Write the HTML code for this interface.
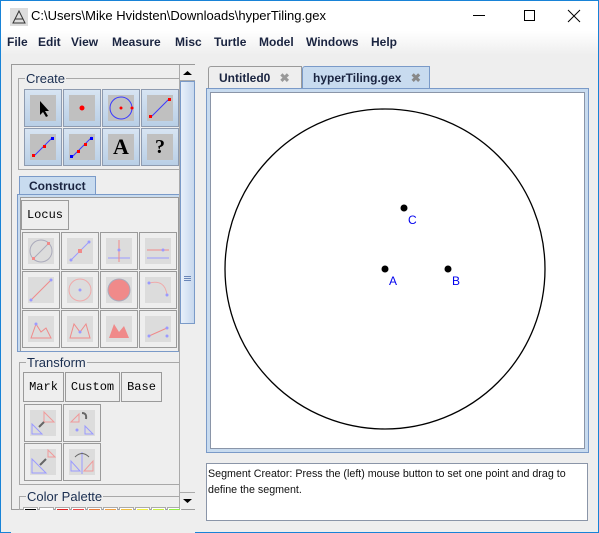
<!DOCTYPE html>
<html><head><meta charset="utf-8"><style>
*{box-sizing:border-box}
body{margin:0;width:599px;height:533px;overflow:hidden;background:#eeeeee;font-family:"Liberation Sans",sans-serif;position:relative}
.a{position:absolute}
.btn{position:absolute;width:38px;height:38px;border:1px solid #8e9bb0;background:linear-gradient(#d7e4f2,#b9cfe6);}
.btn .in{position:absolute;left:5px;top:5px;width:26px;height:26px;background:#c0c0c0}
.gb{position:absolute;border:1px solid #9a9a9a;width:38px;height:38px;background:#eeeeee}
.gb .in{position:absolute;left:5px;top:5px;width:26px;height:26px;background:#dcdcdc}
.tb{position:absolute;border:1px solid #9a9a9a;background:#eeeeee;font-family:"Liberation Mono",monospace;font-size:12px;text-align:center;line-height:28px;height:30px}
.grp{position:absolute;border:1px solid #a8a8a8}
.lbl{position:absolute;background:#eeeeee;font-size:13px;color:#1a2e50;padding:0 1px;line-height:14px}
svg{position:absolute;left:0;top:0}
</style></head><body>
<div class="a" style="left:0;top:0;width:599px;height:533px;border:1px solid #1883d7"></div>
<div class="a" style="left:1px;top:1px;width:597px;height:30px;background:#fff">
 <svg width="20" height="20" style="left:8px;top:6px"><rect x="1" y="1" width="18" height="18" fill="#ddd"/><path d="M4 16 L10 4 L16 16 Z M6 12 H14" stroke="#333" fill="none"/></svg>
 <span class="a" style="left:30px;top:7px;font-size:13px;color:#000">C:\Users\Mike Hvidsten\Downloads\hyperTiling.gex</span>
 <span class="a" style="left:472px;top:14px;width:12px;height:1px;background:#000"></span>
 <span class="a" style="left:523px;top:9px;width:11px;height:11px;border:1px solid #000"></span>
 <svg width="14" height="14" style="left:566px;top:8px"><path d="M1 1 L13 13 M13 1 L1 13" stroke="#000" stroke-width="1"/></svg>
</div>
<div class="a" style="left:1px;top:31px;width:597px;height:24px;background:linear-gradient(#fff,#eeeeee);font-size:12px;font-weight:bold;color:#1a2440">
 <span class="a" style="left:6px;top:4px">File</span>
 <span class="a" style="left:37px;top:4px">Edit</span>
 <span class="a" style="left:70px;top:4px">View</span>
 <span class="a" style="left:111px;top:4px">Measure</span>
 <span class="a" style="left:174px;top:4px">Misc</span>
 <span class="a" style="left:213px;top:4px">Turtle</span>
 <span class="a" style="left:258px;top:4px">Model</span>
 <span class="a" style="left:305px;top:4px">Windows</span>
 <span class="a" style="left:370px;top:4px">Help</span>
</div>

<div class="a" style="left:11px;top:64px;width:184px;height:446px;border:1px solid #9a9a9a;overflow:hidden"></div>
<div class="grp" style="left:18px;top:78px;width:170px;height:92px"></div>
<span class="lbl" style="left:25px;top:72px">Create</span>
<div class="btn" style="left:24px;top:89px"><div class="in"><svg width="26" height="26"><path d="M10 6 L10 20 L13 17 L16 22 L18 21 L15 16 L19 16 Z" fill="#000"/></svg></div></div>
<div class="btn" style="left:63px;top:89px"><div class="in"><svg width="26" height="26"><circle cx="13" cy="13" r="2.5" fill="red"/></svg></div></div>
<div class="btn" style="left:102px;top:89px"><div class="in"><svg width="26" height="26"><circle cx="13" cy="13" r="11" fill="none" stroke="#3a3aff"/><circle cx="13" cy="13" r="1.5" fill="red"/><circle cx="24" cy="13" r="1.5" fill="red"/></svg></div></div>
<div class="btn" style="left:141px;top:89px"><div class="in"><svg width="26" height="26"><line x1="4" y1="22" x2="22" y2="4" stroke="#3a3aff"/><rect x="2" y="20" width="3" height="3" fill="red"/><rect x="21" y="3" width="3" height="3" fill="red"/></svg></div></div>
<div class="btn" style="left:24px;top:128px"><div class="in"><svg width="26" height="26"><line x1="4" y1="22" x2="22" y2="4" stroke="#3a3aff"/><rect x="2" y="20" width="3" height="3" fill="red"/><rect x="13" y="11" width="3" height="3" fill="red"/><rect x="21" y="3" width="3" height="3" fill="#00f"/></svg></div></div>
<div class="btn" style="left:63px;top:128px"><div class="in"><svg width="26" height="26"><line x1="3" y1="23" x2="23" y2="3" stroke="#3a3aff"/><rect x="1" y="21" width="3" height="3" fill="#00f"/><rect x="8" y="16" width="3" height="3" fill="red"/><rect x="15" y="9" width="3" height="3" fill="red"/><rect x="21" y="3" width="3" height="3" fill="#00f"/></svg></div></div>
<div class="btn" style="left:102px;top:128px"><div class="in" style="font-family:'Liberation Serif',serif;font-weight:bold;font-size:22px;text-align:center;line-height:26px">A</div></div>
<div class="btn" style="left:141px;top:128px"><div class="in" style="font-family:'Liberation Serif',serif;font-weight:bold;font-size:20px;text-align:center;line-height:26px">?</div></div>

<div class="a" style="left:19px;top:176px;width:77px;height:19px;background:#c8dbef;border:1px solid #7a9ac8;border-bottom:none;font-size:12px;font-weight:bold;color:#1a2440;padding:2px 0 0 9px">Construct</div>
<div class="a" style="left:17px;top:194px;width:165px;height:158px;border:1px solid #7a9ac8;background:#c8dbef;padding:2px 2px 0 2px"><div style="width:100%;height:100%;background:#eeeeee;border:1px solid #9a9a9a;border-bottom:none"></div></div>
<div class="tb" style="left:21px;top:200px;width:48px">Locus</div>
<div id="cgrid"></div>

<div class="grp" style="left:19px;top:362px;width:163px;height:123px"></div>
<span class="lbl" style="left:26px;top:356px">Transform</span>
<div class="tb" style="left:23px;top:372px;width:41px">Mark</div>
<div class="tb" style="left:65px;top:372px;width:55px">Custom</div>
<div class="tb" style="left:121px;top:372px;width:41px">Base</div>
<div class="gb" style="left:24px;top:404px"><div class="in"><svg width="26" height="26"><path d="M2 24 L2 14 L12 24Z" fill="none" stroke="#9a9aff"/><path d="M14 12 L14 2 L24 12Z" fill="none" stroke="#f09a9a"/><line x1="9" y1="17" x2="14" y2="12" stroke="#666" stroke-width="2"/></svg></div></div>
<div class="gb" style="left:63px;top:404px"><div class="in"><svg width="26" height="26"><path d="M2 12 L10 12 L10 4Z" fill="none" stroke="#f09a9a"/><path d="M16 24 L24 24 L16 16Z" fill="none" stroke="#9a9aff"/><circle cx="8" cy="20" r="1.5" fill="#9a9aff"/><path d="M13 3 Q18 3 17 9" fill="none" stroke="#666" stroke-width="2"/></svg></div></div>
<div class="gb" style="left:24px;top:443px"><div class="in"><svg width="26" height="26"><path d="M2 24 L2 10 L16 24Z" fill="none" stroke="#9a9aff"/><path d="M18 8 L18 1 L25 8Z" fill="none" stroke="#f09a9a"/><line x1="10" y1="16" x2="16" y2="10" stroke="#666" stroke-width="2"/></svg></div></div>
<div class="gb" style="left:63px;top:443px"><div class="in"><svg width="26" height="26"><line x1="13" y1="3" x2="13" y2="25" stroke="#9a9aff"/><path d="M2 22 L11 22 L2 12Z" fill="none" stroke="#9a9aff"/><path d="M24 22 L15 22 L24 12Z" fill="none" stroke="#f09a9a"/><path d="M6 8 Q13 1 20 8" fill="none" stroke="#666"/></svg></div></div>

<div class="grp" style="left:19px;top:496px;width:163px;height:20px;border-bottom:none"></div>
<span class="lbl" style="left:26px;top:490px">Color Palette</span>
<div id="pal"></div>
<div class="a" style="left:11px;top:510px;width:184px;height:23px;background:#eeeeee"></div>

<div class="a" style="left:179px;top:65px;width:16px;height:444px;background:#eeeeee;border-left:1px solid #aaa">
 <div class="a" style="left:0;top:0;width:15px;height:16px;border-bottom:1px solid #aaa"><svg width="15" height="16"><path d="M3 10 L7.5 6 L12 10Z" fill="#000"/></svg></div>
 <div class="a" style="left:0;top:16px;width:15px;height:243px;background:linear-gradient(90deg,#e8f0fa,#c7d8ee);border:1px solid #7a9ac8"><svg width="13" height="243"><path d="M3 194.5H10M3 196.5H10M3 198.5H10" stroke="#6a86b8"/></svg></div>
 <div class="a" style="left:0;top:427px;width:15px;height:16px;border-top:1px solid #aaa"><svg width="15" height="16"><path d="M3 6 L7.5 10 L12 6Z" fill="#000"/></svg></div>
</div>

<div class="a" style="left:208px;top:66px;width:94px;height:22px;border:1px solid #9a9a9a;border-bottom:none;border-radius:3px 0 0 0;font-size:12px;font-weight:bold;color:#1a2440;padding:4px 0 0 10px">Untitled0 <span style="color:#999;margin-left:6px">✖</span></div>
<div class="a" style="left:302px;top:66px;width:128px;height:24px;border:1px solid #7a9ac8;border-bottom:none;border-radius:3px 0 0 0;background:#c8dbef;font-size:12px;font-weight:bold;color:#1a2440;padding:4px 0 0 10px">hyperTiling.gex <span style="color:#888;margin-left:6px">✖</span></div>
<div class="a" style="left:206px;top:88px;width:383px;height:365px;border:1px solid #7a9ac8;background:#c8dbef;padding:3px"><div style="width:100%;height:100%;background:#fff;border:1px solid #8a95a8"></div></div>
<svg id="canvas" width="599" height="533"></svg>
<div class="a" style="left:206px;top:463px;width:382px;height:58px;background:#fff;border:1px solid #8a95a8;font-size:10.7px;color:#111;padding:2px 1px;line-height:16px">Segment Creator: Press the (left) mouse button to set one point and drag to define the segment.</div>

<script>
const g=document.getElementById('cgrid');
const icons=[
'<circle cx="13" cy="13" r="11" fill="none" stroke="#aab"/><line x1="5" y1="21" x2="21" y2="5" stroke="#aab"/><rect x="4" y="19" width="3" height="3" fill="#f08a8a"/><rect x="19" y="4" width="3" height="3" fill="#f08a8a"/>',
'<line x1="4" y1="22" x2="22" y2="4" stroke="#9a9aff"/><rect x="11" y="11" width="4" height="4" fill="#f08a8a"/><circle cx="4" cy="22" r="1.5" fill="#9a9aff"/><circle cx="22" cy="4" r="1.5" fill="#9a9aff"/>',
'<line x1="2" y1="20" x2="24" y2="20" stroke="#9a9aff"/><line x1="13" y1="2" x2="13" y2="24" stroke="#f08a8a"/><circle cx="13" cy="12" r="1.5" fill="#9a9aff"/>',
'<line x1="2" y1="12" x2="24" y2="12" stroke="#f08a8a"/><line x1="2" y1="20" x2="24" y2="20" stroke="#9a9aff"/><circle cx="18" cy="12" r="1.5" fill="#9a9aff"/>',
'<line x1="3" y1="23" x2="23" y2="3" stroke="#f08a8a"/><circle cx="3" cy="23" r="1.5" fill="#9a9aff"/><circle cx="23" cy="3" r="1.5" fill="#9a9aff"/>',
'<circle cx="13" cy="13" r="11" fill="none" stroke="#f0aaaa"/><circle cx="13" cy="13" r="1.5" fill="#9a9aff"/>',
'<circle cx="13" cy="13" r="11" fill="#f08a8a" stroke="#aab"/>',
'<path d="M4 6 Q20 2 22 18" fill="none" stroke="#f0aaaa"/><circle cx="4" cy="6" r="1.5" fill="#9a9aff"/><circle cx="22" cy="18" r="1.5" fill="#9a9aff"/>',
'<path d="M3 22 L8 8 L13 16 L18 12 L23 22Z" fill="none" stroke="#f08a8a"/><circle cx="8" cy="8" r="1.5" fill="#9a9aff"/>',
'<path d="M3 22 L7 8 L13 16 L19 8 L23 22Z" fill="none" stroke="#f08a8a"/><circle cx="13" cy="16" r="1.5" fill="#9a9aff"/>',
'<path d="M3 22 L8 8 L13 16 L18 10 L23 22Z" fill="#f08a8a"/>',
'<line x1="4" y1="20" x2="22" y2="12" stroke="#f08a8a"/><circle cx="4" cy="20" r="1.5" fill="#9a9aff"/><circle cx="22" cy="12" r="1.5" fill="#9a9aff"/><circle cx="22" cy="20" r="1.5" fill="#9a9aff"/>'];
const cnames=['perpendicular-bisector-tool','midpoint-tool','perpendicular-tool','parallel-tool','segment-construct-tool','circle-construct-tool','filled-circle-tool','arc-tool','polygon-tool','polyline-tool','filled-polygon-tool','intersection-tool'];
icons.forEach((s,i)=>{const d=document.createElement('div');d.className='gb';
d.style.left=(22+39*(i%4))+'px';d.style.top=(232+39*Math.floor(i/4))+'px';


d.innerHTML='<div class="in"><svg width="26" height="26">'+s+'</svg></div>';g.appendChild(d);});
const pal=document.getElementById('pal');
const pcols=['#000','#fff','#d22','#e44','#e87c3c','#f0a040','#f0c040','#f0f040','#c8f040','#90f040'];
pcols.forEach((c,i)=>{const d=document.createElement('div');d.className='a';


d.style.cssText='left:'+(23+16*i)+'px;top:507px;width:15px;height:6px;border:1px solid #aaa;border-bottom:none;background:#fff';
d.innerHTML='<div style="margin:1px;height:2px;background:'+c+'"></div>';pal.appendChild(d);});

const pointLabels=['A','B','C'];
const pointX=[385,448,404];
const pointY=[269,269,208];
const circleCenter=[385,269];
const circleRadius=[160];
const NS='http://www.w3.org/2000/svg';
const svg=document.getElementById('canvas');
const c=document.createElementNS(NS,'circle');


c.setAttribute('cx',circleCenter[0]);c.setAttribute('cy',circleCenter[1]);c.setAttribute('r',circleRadius[0]);
c.setAttribute('fill','none');c.setAttribute('stroke','#000');c.setAttribute('stroke-width','1.3');
svg.appendChild(c);
pointLabels.forEach((l,i)=>{
 const p=document.createElementNS(NS,'circle');
 
 
 p.setAttribute('cx',pointX[i]);p.setAttribute('cy',pointY[i]);p.setAttribute('r',3.5);p.setAttribute('fill','#000');
 svg.appendChild(p);
 const t=document.createElementNS(NS,'text');
 
 
 t.setAttribute('x',pointX[i]+4);t.setAttribute('y',pointY[i]+16);
 t.setAttribute('fill','#0000ee');t.setAttribute('font-size','12');t.setAttribute('font-family','Liberation Sans, sans-serif');
 t.textContent=l;svg.appendChild(t);
});
</script>
</body></html>
